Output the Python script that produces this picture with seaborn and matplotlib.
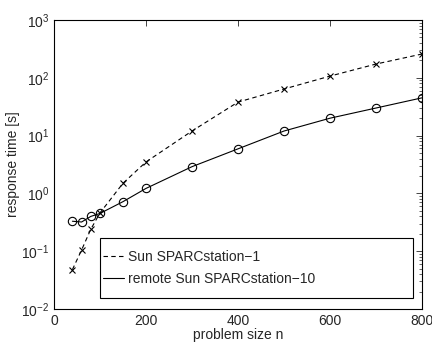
import numpy as np
import pandas as pd
import matplotlib
matplotlib.use("Agg")
import matplotlib.pyplot as plt
from matplotlib.lines import Line2D
from matplotlib.patches import Rectangle
import seaborn as sns

n = [40, 60, 80, 100, 150, 200, 300, 400, 500, 600, 700, 800]
sparc1 = [0.048, 0.105, 0.24, 0.46, 1.5, 3.5, 12, 38, 64, 107, 173, 258]
sparc10 = [0.33, 0.32, 0.40, 0.45, 0.72, 1.22, 2.9, 5.9, 12, 20, 30, 45]
labels = ["Sun SPARCstation\u22121", "remote Sun SPARCstation\u221210"]

sns.set_style("white")
plt.rcParams['font.family'] = ['Liberation Sans', 'DejaVu Sans']
plt.rcParams['axes.unicode_minus'] = True

fig = plt.figure(figsize=(4.32, 3.45), dpi=100)
ax = fig.add_axes([54/432, 1 - 309/345, (422-54)/432, (309-20)/345])

dash = (0, (4, 3))
sns.lineplot(x=n, y=sparc1, color="black", linestyle=dash,
             marker="x", markersize=5, markeredgewidth=0.8,
             markeredgecolor="black", linewidth=0.8, ax=ax, legend=False)
sns.lineplot(x=n, y=sparc10, color="black", linestyle="-",
             marker="o", markersize=6, markerfacecolor="none",
             markeredgecolor="black", markeredgewidth=0.8,
             linewidth=0.8, ax=ax, legend=False)

ax.set_yscale("log")
ax.set_xlim(0, 800)
ax.set_ylim(1e-2, 1e3)
ax.set_xticks([0, 200, 400, 600, 800])
ax.set_xlabel("problem size n", fontsize=10, labelpad=0)
ax.set_ylabel("response time [s]", fontsize=10, labelpad=1)
ax.tick_params(which="both", direction="in", top=True, right=True, labelsize=10)
ax.tick_params(which="major", length=4, width=0.6)
ax.tick_params(which="minor", length=2, width=0.5)
for sp in ax.spines.values():
    sp.set_visible(True)
    sp.set_color("black")
    sp.set_linewidth(0.8)

# legend frame
ax.add_patch(Rectangle((0.125, 0.038), 0.851, 0.208, transform=ax.transAxes,
                       facecolor="white", edgecolor="black", linewidth=0.8,
                       zorder=4))
h = [Line2D([], [], color="black", linestyle=dash, linewidth=0.8),
     Line2D([], [], color="black", linestyle="-", linewidth=0.8)]
leg = ax.legend(h, labels, loc="center left",
                bbox_to_anchor=(0.125, 0.142),
                fontsize=10, frameon=False,
                handlelength=1.5, handletextpad=0.3, borderpad=0.25,
                labelspacing=0.6, borderaxespad=0)
leg.set_zorder(5)

fig.savefig("out.png", dpi=100)
